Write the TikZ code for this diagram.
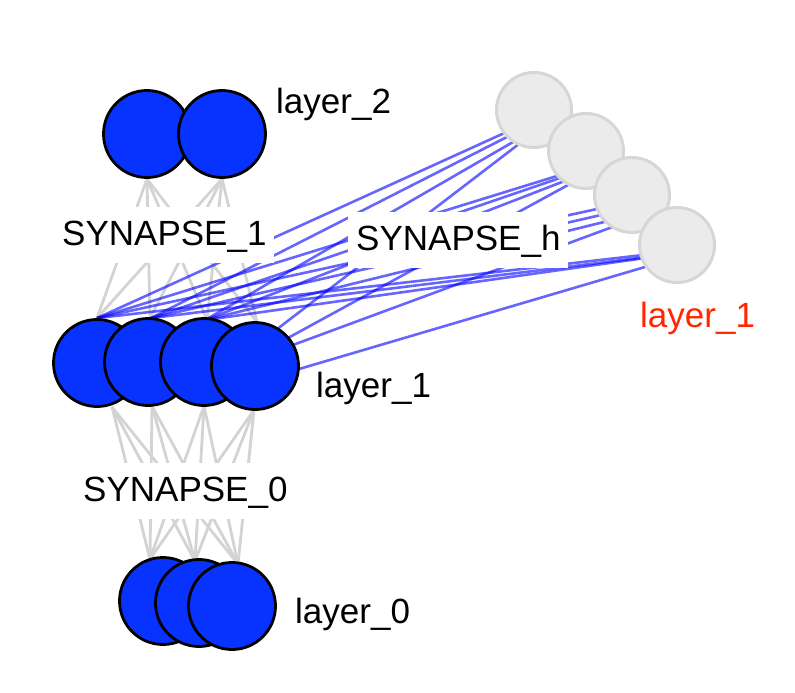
\documentclass[tikz,border=0pt]{standalone}
\usepackage{fontspec}
\setmainfont{Liberation Sans}
\definecolor{nblue}{RGB}{8,51,255}
\definecolor{ghostfill}{RGB}{235,235,235}
\definecolor{ghostline}{RGB}{214,214,214}
\definecolor{synline}{RGB}{211,211,211}
\definecolor{redlbl}{RGB}{255,38,0}
\pgfdeclarelayer{bg}
\pgfsetlayers{bg,main}
\begin{document}
\begin{tikzpicture}[x=1pt,y=-1pt,
  unit/.style={circle,draw=black,line width=2.8pt,fill=nblue,minimum size=87pt,inner sep=0pt},
  ghost/.style={circle,draw=ghostline,line width=3pt,fill=ghostfill,minimum size=75pt,inner sep=0pt},
  syn/.style={draw=synline,line width=2.8pt},
  hid/.style={draw=blue,draw opacity=0.6,line width=2.6pt,shorten >=-6pt},
  lbl/.style={font=\fontsize{35}{40}\selectfont,anchor=base west,inner sep=0pt},
  synlbl/.style={lbl,fill=white,inner xsep=8pt,inner ysep=0pt,text height=38pt,text depth=18pt}]
\useasboundingbox (0,0) rectangle (795,693);

% nodes of layer_2
\node[unit] (L2a) at (147,134) {};
\node[unit] (L2b) at (222,134) {};
% nodes of layer_1
\node[unit] (L1a) at (97,363) {};
\node[unit] (L1b) at (148,362) {};
\node[unit] (L1c) at (204,362) {};
\node[unit] (L1d) at (255,366) {};
% nodes of layer_0
\node[unit] (L0a) at (163,601) {};
\node[unit] (L0b) at (199,603) {};
\node[unit] (L0c) at (232,606) {};
% ghost layer_1
\node[ghost] (G1) at (534,110) {};
\node[ghost] (G2) at (586,151) {};
\node[ghost] (G3) at (632,195) {};
\node[ghost] (G4) at (677,245) {};

% labels
\node[lbl] (t2) at (276,113) {layer\_2};
\node[lbl] (t1) at (316,397) {layer\_1};
\node[lbl] (t0) at (295,623) {layer\_0};
\node[lbl,text=redlbl] (th) at (640,327) {layer\_1};

\begin{pgfonlayer}{bg}
% SYNAPSE_1 : layer_1 -> layer_2
\foreach \s in {L2a,L2b}{
  \draw[syn] (\s.south) -- (L1a.north);
  \draw[syn] (\s.south) -- ([shift={(2,1)}]L1b.north);
  \draw[syn] (\s.south) -- ([shift={(3,3)}]L1c.north);
  \draw[syn] (\s.south) -- ([shift={(2,1)}]L1d.north);
}
% SYNAPSE_0 : layer_0 -> layer_1
\foreach \t/\dx in {L0a/-13,L0b/-4,L0c/6}{
  \draw[syn] ([shift={(\dx,3)}]\t.north) -- ([shift={(15,-1)}]L1a.south);
  \draw[syn] ([shift={(\dx,3)}]\t.north) -- ([shift={(4,-1)}]L1b.south);
  \draw[syn] ([shift={(\dx,3)}]\t.north) -- ([shift={(0,-1)}]L1c.south);
  \draw[syn] ([shift={(\dx,3)}]\t.north) -- ([shift={(-1,-1)}]L1d.south);
}
% SYNAPSE_h : layer_1 -> ghost layer_1
\draw[hid] (L1a.north) -- ([shift={(-34,25)}]G1.center);
\draw[hid] ([shift={(3,1)}]L1b.north) -- ([shift={(-31,29)}]G1.center);
\draw[hid] ([shift={(1,3)}]L1c.north) -- ([shift={(-21,32)}]G1.center);
\draw[hid] ([shift={(0,-20)}]L1d.center) -- ([shift={(-19,37)}]G1.center);

\draw[hid] (L1a.north) -- ([shift={(-29,25)}]G2.center);
\draw[hid] ([shift={(3,1)}]L1b.north) -- ([shift={(-26,27)}]G2.center);
\draw[hid] ([shift={(1,3)}]L1c.north) -- ([shift={(-24,31)}]G2.center);
\draw[hid] ([shift={(0,-10)}]L1d.center) -- ([shift={(-18,34)}]G2.center);

\draw[hid] (L1a.north) -- ([shift={(-35,14)}]G3.center);
\draw[hid] ([shift={(3,1)}]L1b.north) -- ([shift={(-31,20)}]G3.center);
\draw[hid] ([shift={(1,3)}]L1c.north) -- ([shift={(-28,27)}]G3.center);
\draw[hid] ([shift={(0,-7)}]L1d.center) -- ([shift={(-25,34)}]G3.center);

\draw[hid] (L1a.north) -- ([shift={(-34,10)}]G4.center);
\draw[hid] ([shift={(3,1)}]L1b.north) -- ([shift={(-30,12)}]G4.center);
\draw[hid] ([shift={(1,3)}]L1c.north) -- ([shift={(-32,13)}]G4.center);
\draw[hid] ([shift={(0,16)}]L1d.center) -- ([shift={(-32,22)}]G4.center);
\end{pgfonlayer}

% synapse labels with white boxes
\node[synlbl] (S1) at (54,245) {SYNAPSE\_1};
\node[synlbl] (Sh) at (348,250) {SYNAPSE\_h};
\node[synlbl] (S0) at (75,501) {SYNAPSE\_0};
\end{tikzpicture}
\end{document}
